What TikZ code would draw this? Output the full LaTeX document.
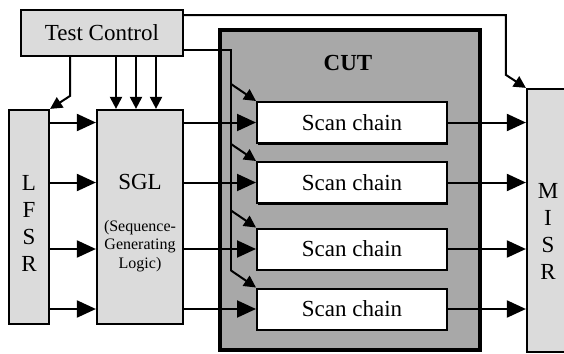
\documentclass[tikz,border=0pt]{standalone}
\usepackage{fontspec}
\setmainfont{Liberation Serif}
\usetikzlibrary{arrows.meta,shadows}
\begin{document}
\begin{tikzpicture}[x=0.5pt,y=-0.5pt]
	% Styles (MODIFIABLES)
	\tikzstyle{fleche}=[->,>={Triangle[length=9.5pt,width=8.5pt]},line width=1pt]
	\tikzstyle{commande}=[->,>={Triangle[length=6pt,width=6pt]},line width=1pt]
	\tikzstyle{bloc}=[draw,line width=1.1pt,fill=black!14,inner sep=0pt]
	\tikzstyle{chaine}=[draw,line width=1pt,fill=white,inner sep=0pt,minimum width=95pt,minimum height=20.5pt,drop shadow={shadow xshift=0.7pt,shadow yshift=-0.8pt,fill=black,opacity=1}]
	\tikzstyle{texte}=[font=\fontsize{11.5}{13.5}\selectfont,align=center]
	\tikzstyle{petit}=[font=\fontsize{8}{9.3}\selectfont,align=center]
	% Cadre
	\useasboundingbox (0,0) rectangle (564,354);
	% Blocs
	\node[bloc,texte,minimum width=81pt,minimum height=23pt] (tc) at (102,33) {Test Control};
	\node[bloc,minimum width=20pt,minimum height=107pt] (lfsr) at (29,217) {};
	\node[bloc,minimum width=43pt,minimum height=107pt] (sgl) at (140,217) {};
	\node[draw,line width=2pt,fill=black!34,inner sep=0pt,minimum width=130pt,minimum height=160pt] (cut) at (350,190) {};
	\node[bloc,minimum width=36.5pt,minimum height=131.5pt] (misr) at (563.5,220.5) {};
	% Textes
	\node[texte] (lfsrtxt) at (29,223) {L\\F\\S\\R};
	\node[texte] (misrtxt) at (548,231) {M\\I\\S\\R};
	\node[texte] (sgltxt) at (140,182) {SGL};
	\node[petit] (sgldesc) at (140,246) {(Sequence-\\Generating\\Logic)};
	\node[font={\fontsize{11.5}{13.5}\selectfont\bfseries}] (cuttxt) at (348,63) {CUT};
	% Chaines de scan et arcs
	\foreach \i/\y in {1/122.5,2/182.5,3/249,4/309}{
		\node[chaine,texte] (sc\i) at (352,\y) {Scan chain};
		\draw[fleche] (lfsr.east |- sc\i.west) -- (sgl.west |- sc\i.west);
		\draw[fleche] (sgl.east |- sc\i.west) -- (sc\i.west);
		\draw[fleche] (sc\i.east) -- (misr.west |- sc\i.east);
		\draw[commande] ([shift={(-25,-17)}]sc\i.north west) -- (sc\i.north west);
	}
	% Commandes
	\coordinate (lcoude) at ([shift={(20,-13)}]lfsr.north east);
	\coordinate (mcoude) at ([shift={(-20,-13)}]misr.north west);
	\coordinate (bus) at ([shift={(-25,-17)}]sc4.north west);
	\draw[commande] (tc.south -| lcoude) -- (lcoude) -- (lfsr.north east);
	\foreach \x in {116,136,156}
		\draw[commande] (tc.south -| \x,0) -- (sgl.north -| \x,0);
	\draw[line width=1pt] (tc.east |- 0,50) -| (bus);
	\draw[commande] (tc.east |- 0,15) -| (mcoude) -- (misr.north west);
\end{tikzpicture}
\end{document}
